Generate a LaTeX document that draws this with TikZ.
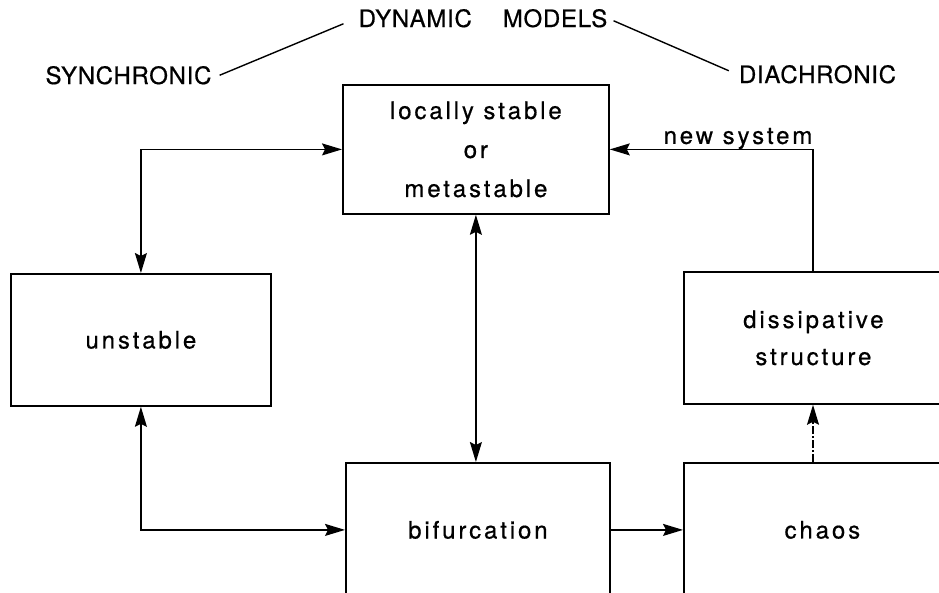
\documentclass[tikz,border=0pt]{standalone}
\usepackage{fontspec}
\setmainfont{TeX Gyre Heros}
\newfontfamily\lowfont[LetterSpace=12,FakeBold=0.6]{TeX Gyre Heros}
\newfontfamily\capfont[LetterSpace=3,FakeBold=0.6]{TeX Gyre Heros}
\usetikzlibrary{arrows.meta}
\begin{document}
\begin{tikzpicture}[x=1pt,y=-1pt,
  box/.style={draw, line width=1.8pt, rectangle, inner sep=0pt, anchor=north west,
    align=center, font=\lowfont\fontsize{24}{39}\selectfont},
  capt/.style={anchor=base, inner sep=0pt, font=\capfont\fontsize{24}{28}\selectfont},
  tip/.tip={Stealth[length=20pt,width=12pt,inset=3pt]},
  single/.style={line width=1.3pt, -tip},
  both/.style={line width=1.3pt, tip-tip},
  rule/.style={line width=1.4pt}]
\useasboundingbox (0,0) rectangle (939,592);
\clip (0,0) rectangle (939,592);
% boxes
\node[box, minimum width=266pt, minimum height=129pt] (ls) at (342,84) {locally stable\\or\\metastable};
\node[box, minimum width=260pt, minimum height=132pt] (un) at (10,273) {unstable};
\node[box, minimum width=264pt, minimum height=134pt] (bif) at (345,462) {bifurcation};
\node[box, minimum width=277pt, minimum height=134pt] (ch) at (683,462) {chaos};
\node[box, minimum width=259pt, minimum height=132pt, font=\lowfont\fontsize{24}{37}\selectfont] (di) at (683,271) {dissipative\\structure};
% top labels
\node[capt] (dm) at (483,27) {DYNAMIC\hspace{31pt}MODELS};
\node[capt] (sy) at (128.5,84) {SYNCHRONIC};
\node[capt] (dia) at (817.5,83) {DIACHRONIC};
\draw[rule] ([xshift=8pt]sy.east) -- ([xshift=-15pt,yshift=-5.5pt]dm.west);
\draw[rule] ([xshift=6pt,yshift=-2.5pt]dm.east) -- ([xshift=-10pt,yshift=3.5pt]dia.west);
% connectors
\coordinate (dx) at (813,0);
\draw[both] (un.north) |- (ls.west);
\draw[both] (un.south) |- (bif.west);
\draw[both] (ls.south) -- (ls.south |- bif.north);
\draw[single] (bif.east) -- (ch.west);
\draw[single, dash pattern=on 8pt off 2pt on 2pt off 2pt] (ch.north -| dx) -- (di.south -| dx);
\draw[single] (di.north -| dx) |- node[pos=0.5, anchor=base east, inner sep=0pt, yshift=5.5pt,
  font=\lowfont\fontsize{24}{28}\selectfont] (ns) {new system} (ls.east);
\end{tikzpicture}
\end{document}
